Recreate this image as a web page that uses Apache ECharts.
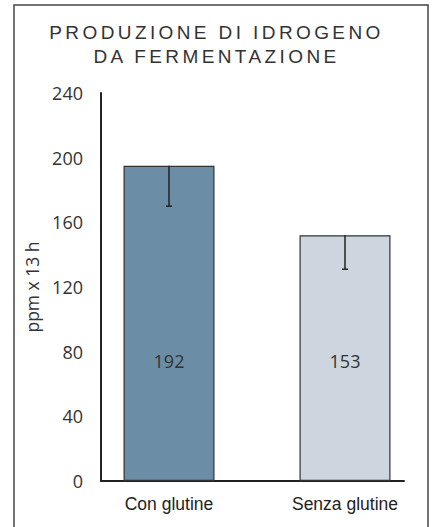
<!DOCTYPE html>
<html>
<head>
<meta charset="utf-8">
<script src="https://cdn.jsdelivr.net/npm/echarts@6/dist/echarts.min.js"></script>
<style>
  html, body { margin: 0; padding: 0; background: #fff; }
  #chart { width: 433px; height: 527px; }
</style>
</head>
<body>
<div id="chart"></div>
<script>
// data
var categories = ["Con glutine", "Senza glutine"];
var barValues = [195, 152];        // bar heights as drawn
var printedValues = ["192", "153"]; // numbers printed inside the bars
var errorLow = [170, 131];          // lower end of the error whiskers
var yMin = 0, yMax = 240, yStep = 40;

var barColors = ["#6b8ea6", "#cdd6df"];

var chart = echarts.init(document.getElementById("chart"), null, { renderer: "svg" });

var errorData = categories.map(function (c, i) {
  return [i, barValues[i], errorLow[i]];
});

var option = {
  animation: false,
  backgroundColor: "#fff",
  title: {
    text: "PRODUZIONE DI IDROGENO\nDA FERMENTAZIONE",
    left: "center",
    top: 15,
    textStyle: {
      fontFamily: "Liberation Sans",
      fontSize: 19,
      fontWeight: "normal",
      color: "#333",
      lineHeight: 24
    }
  },
  graphic: [{
    type: "rect",
    shape: { x: 14, y: 5, width: 414, height: 540 },
    style: { fill: null, stroke: "#444", lineWidth: 1.5 },
    silent: true
  }],
  grid: [
    { left: 101, right: 29, top: 93, bottom: 46 },
    { left: 81, right: -4, top: 93, bottom: 46 }
  ],
  xAxis: [
    {
      gridIndex: 0, type: "value", min: 0, max: 1,
      axisLine: { show: true, lineStyle: { color: "#222", width: 2 } },
      axisTick: { show: false }, axisLabel: { show: false }, splitLine: { show: false }
    },
    {
      gridIndex: 1, type: "category", data: categories,
      axisLine: { show: false }, axisTick: { show: false }, splitLine: { show: false },
      axisLabel: { margin: 14, fontFamily: "Liberation Sans", fontSize: 17.5, color: "#222" }
    }
  ],
  yAxis: [
    {
      gridIndex: 0, type: "value", min: yMin, max: yMax, interval: yStep,
      name: "ppm x 13 h", nameLocation: "middle", nameGap: 56, nameRotate: 90,
      nameTextStyle: { fontFamily: "Open Sans", fontSize: 17.5, color: "#333" },
      axisLine: { show: true, lineStyle: { color: "#222", width: 2 } },
      axisTick: { show: false }, splitLine: { show: false },
      axisLabel: { margin: 18, fontFamily: "Open Sans", fontSize: 18, color: "#333" }
    },
    {
      gridIndex: 1, type: "value", min: yMin, max: yMax, interval: yStep, show: false,
      splitLine: { show: false }
    }
  ],
  series: [
    {
      type: "bar",
      xAxisIndex: 1, yAxisIndex: 1,
      barWidth: 91,
      data: barValues.map(function (v, i) {
        return { value: v, itemStyle: { color: barColors[i] } };
      }),
      itemStyle: { borderColor: "#333", borderWidth: 1.2 },
      label: {
        show: true,
        position: "insideBottom",
        distance: 111,
        formatter: function (p) { return printedValues[p.dataIndex]; },
        fontFamily: "Open Sans",
        fontSize: 18,
        color: "#333"
      },
      z: 2
    },
    {
      type: "custom",
      xAxisIndex: 1, yAxisIndex: 1,
      data: errorData,
      z: 3,
      renderItem: function (params, api) {
        var top = api.coord([api.value(0), api.value(1)]);
        var bottom = api.coord([api.value(0), api.value(2)]);
        var style = { stroke: "#222", lineWidth: 1.5 };
        return {
          type: "group",
          children: [
            { type: "line", shape: { x1: top[0], y1: top[1], x2: bottom[0], y2: bottom[1] }, style: style },
            { type: "line", shape: { x1: bottom[0] - 3, y1: bottom[1], x2: bottom[0] + 3, y2: bottom[1] }, style: style }
          ]
        };
      }
    }
  ]
};

// the printed title is letter-spaced; echarts text has no option for it
function spaceTitle() {
  document.querySelectorAll("#chart text").forEach(function (t) {
    if (/PRODUZIONE|FERMENTAZIONE/.test(t.textContent)) {
      t.style.letterSpacing = "3.4px";
    }
  });
}
chart.on("finished", spaceTitle);
chart.setOption(option);
spaceTitle();
</script>
</body>
</html>
